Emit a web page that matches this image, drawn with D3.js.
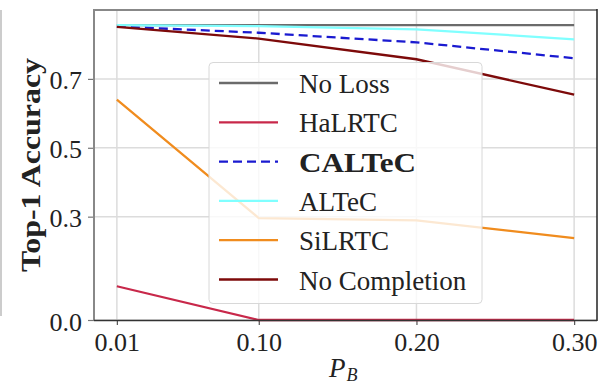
<!DOCTYPE html>
<html>
<head>
<meta charset="utf-8">
<script src="https://cdn.jsdelivr.net/npm/d3@7"></script>
<style>
  body { margin: 0; background: #fff; }
  text { font-family: "Liberation Serif", "DejaVu Serif", serif; fill: #222; }
</style>
</head>
<body>
<div id="chart"></div>
<script>
// values
const xValues = [0.01, 0.10, 0.20, 0.30];
const xTickLabels = ['0.01', '0.10', '0.20', '0.30'];
const yTicks = [0.0, 0.3, 0.5, 0.7];

const names = ['No Loss', 'HaLRTC', 'CALTeC', 'ALTeC', 'SiLRTC', 'No Completion'];
const noLoss = [0.856, 0.856, 0.856, 0.856];
const haLRTC = [0.098, 0.0, 0.0, 0.0];
const calTeC = [0.852, 0.834, 0.806, 0.760];
const alTeC = [0.856, 0.853, 0.844, 0.815];
const siLRTC = [0.640, 0.296, 0.289, 0.238];
const noCompletion = [0.851, 0.817, 0.757, 0.654];

const colors = ['#6b6b6b', '#c8284a', '#1a1ad0', '#80ffff', '#f08c1e', '#7d0a0a'];

const series = [noLoss, haLRTC, calTeC, alTeC, siLRTC, noCompletion].map((v, i) => ({
  name: names[i], values: v, color: colors[i], dashed: names[i] === 'CALTeC'
}));

const w = 605, h = 385;
const plotLeft = 94, plotRight = 597, plotTop = 10, plotBottom = 320;

const svg = d3.select('#chart').append('svg')
  .attr('width', w).attr('height', h);

const x = d3.scaleLinear().domain([-0.0045, 0.3145]).range([plotLeft, plotRight]);
const y = d3.scaleLinear().domain([0, 0.9]).range([plotBottom, plotTop]);

// stray rule at far left of the crop
svg.append('line')
  .attr('x1', 1).attr('x2', 1).attr('y1', 10).attr('y2', 316)
  .attr('stroke', '#bbb').attr('stroke-width', 1.5);

// grid
svg.append('g').selectAll('line').data(xValues).enter().append('line')
  .attr('x1', d => x(d)).attr('x2', d => x(d))
  .attr('y1', plotTop).attr('y2', plotBottom)
  .attr('stroke', '#dcdcdc').attr('stroke-width', 1.5);
svg.append('g').selectAll('line').data(yTicks).enter().append('line')
  .attr('x1', plotLeft).attr('x2', plotRight)
  .attr('y1', d => y(d)).attr('y2', d => y(d))
  .attr('stroke', '#dcdcdc').attr('stroke-width', 1.5);

// axes
const xAxis = d3.axisBottom(x).tickValues(xValues)
  .tickFormat((d, i) => xTickLabels[i]).tickSize(5).tickPadding(4);
const gx = svg.append('g').attr('transform', 'translate(0,' + plotBottom + ')').call(xAxis);
gx.select('.domain').remove();
gx.selectAll('line').attr('stroke', '#555').attr('stroke-width', 1.2);
gx.selectAll('text').attr('font-size', 26).attr('fill', '#222')
  .attr('font-family', '"Liberation Serif", serif')
  .attr('dy', null).attr('y', 31);

const yAxis = d3.axisLeft(y).tickValues(yTicks)
  .tickFormat(d3.format('.1f')).tickSize(6).tickPadding(5);
const gy = svg.append('g').attr('transform', 'translate(' + plotLeft + ',0)').call(yAxis);
gy.select('.domain').remove();
gy.selectAll('line').attr('stroke', '#777').attr('stroke-width', 1.2);
gy.selectAll('text').attr('font-size', 26).attr('fill', '#222')
  .attr('font-family', '"Liberation Serif", serif')
  .attr('dy', null).attr('y', 10).attr('x', -12);

// lines
const line = d3.line().x((d, i) => x(xValues[i])).y(d => y(d));
svg.append('g').selectAll('path').data(series).enter().append('path')
  .attr('d', d => line(d.values))
  .attr('fill', 'none')
  .attr('stroke', d => d.color)
  .attr('stroke-width', 2.3)
  .attr('stroke-dasharray', d => d.dashed ? '9,5' : null);

// frame
svg.append('line').attr('x1', plotLeft).attr('x2', plotLeft).attr('y1', plotTop - 1).attr('y2', plotBottom)
  .attr('stroke', '#888').attr('stroke-width', 2);
svg.append('line').attr('x1', plotLeft).attr('x2', plotRight).attr('y1', plotTop).attr('y2', plotTop)
  .attr('stroke', '#888').attr('stroke-width', 2);
svg.append('line').attr('x1', plotRight).attr('x2', plotRight).attr('y1', plotTop - 1).attr('y2', plotBottom + 1)
  .attr('stroke', '#222').attr('stroke-width', 1.5);
svg.append('line').attr('x1', plotLeft).attr('x2', plotRight).attr('y1', plotBottom + 0.5).attr('y2', plotBottom + 0.5)
  .attr('stroke', '#333').attr('stroke-width', 1.5);

// legend
const legend = svg.append('g');
legend.append('rect')
  .attr('x', 209).attr('y', 62.5).attr('width', 273).attr('height', 241)
  .attr('rx', 4)
  .attr('fill', 'rgba(255,255,255,0.8)')
  .attr('stroke', '#d8d8d8').attr('stroke-width', 1);
const item = legend.selectAll('g.item').data(series).enter().append('g')
  .attr('class', 'item')
  .attr('transform', (d, i) => 'translate(0,' + (83 + i * 39.3) + ')');
item.append('line')
  .attr('x1', 219).attr('x2', 278).attr('y1', 0).attr('y2', 0)
  .attr('stroke', d => d.color).attr('stroke-width', 2.3)
  .attr('stroke-dasharray', d => d.dashed ? '9,5' : null);
item.append('text')
  .attr('x', 299).attr('y', 10)
  .attr('font-size', 27)
  .attr('font-weight', d => d.dashed ? 'bold' : null)
  .attr('textLength', d => d.dashed ? 117 : null)
  .attr('lengthAdjust', d => d.dashed ? 'spacingAndGlyphs' : null)
  .text(d => d.name);

// axis titles
svg.append('text')
  .attr('transform', 'translate(40,165) rotate(-90)')
  .attr('text-anchor', 'middle')
  .attr('font-size', 27).attr('font-weight', 'bold')
  .attr('textLength', 214).attr('lengthAdjust', 'spacingAndGlyphs')
  .text('Top-1 Accuracy');

const xl = svg.append('text')
  .attr('x', 329).attr('y', 377)
  .attr('font-size', 27).attr('font-style', 'italic');
xl.append('tspan').text('P');
xl.append('tspan').attr('font-size', 18).attr('dy', 4).attr('dx', 1).text('B');
</script>
</body>
</html>
